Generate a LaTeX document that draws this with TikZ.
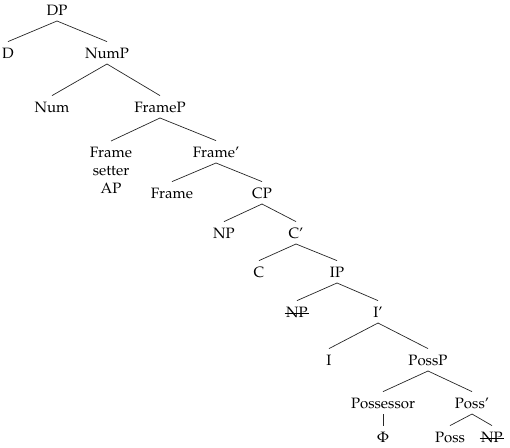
\documentclass[tikz,border=0pt]{standalone}
\usepackage[T1]{fontenc}
\usepackage{mathpazo}
\usepackage{tikz}

\begin{document}
\begin{tikzpicture}[x=1pt, y=-1pt,
    every node/.style={font=\fontsize{15}{18}\selectfont, inner sep=0pt,
        outer xsep=0pt, outer ysep=6pt, text height=10.4pt, text depth=0pt, anchor=base},
    branch/.style={line width=0.7pt, black!85}]

    \useasboundingbox (0,0) rectangle (510,447);

    % Upper part of the tree
    \node (dp)     at ( 57, 15) {DP};
    \node (d)      at (  8, 58) {D};
    \node (nump)   at (107, 58) {NumP};
    \node (num)    at ( 52,112) {Num};
    \node (framep) at (160,112) {FrameP};
    \node[align=center, text height=, anchor=north] (setter) at (111,141) {Frame\\setter\\AP};
    \node (framebar) at (216,157) {Frame'};
    \node (frame)  at (172,198) {Frame};
    \node (cp)     at (262,198) {CP};

    % Clause
    \node (np)     at (224,238) {NP};
    \node (cbar)   at (296,238) {C'};
    \node (c)      at (259,277) {C};
    \node (ip)     at (337,277) {IP};
    \node (npdel)  at (297,317) {NP};
    \node (ibar)   at (378,317) {I'};
    \node (i)      at (329,365) {I};
    \node (possp)  at (428,365) {PossP};

    % Possessive phrase
    \node (possor)  at (383,408) {Possessor};
    \node (possbar) at (472,408) {Poss'};
    \node (phi)     at (383,442) {$\Phi$};
    \node (poss)    at (450,442) {Poss};
    \node (npdelb)  at (492,442) {NP};

    % Branches
    \foreach \mother/\daughter in {dp/d, dp/nump, nump/num, nump/framep,
        framep/setter, framep/framebar, framebar/frame, framebar/cp,
        cp/np, cp/cbar, cbar/c, cbar/ip, ip/npdel, ip/ibar, ibar/i, ibar/possp,
        possp/possor, possp/possbar, possor/phi, possbar/poss, possbar/npdelb}
        \draw[branch] (\mother.south) -- (\daughter.north);

    % Deleted copies (struck through)
    \foreach \n in {npdel, npdelb}
        \draw[line width=0.6pt] ([xshift=-1.5pt, yshift=4pt]\n.base west) -- ([xshift=1.5pt, yshift=4pt]\n.base east);
\end{tikzpicture}
\end{document}
